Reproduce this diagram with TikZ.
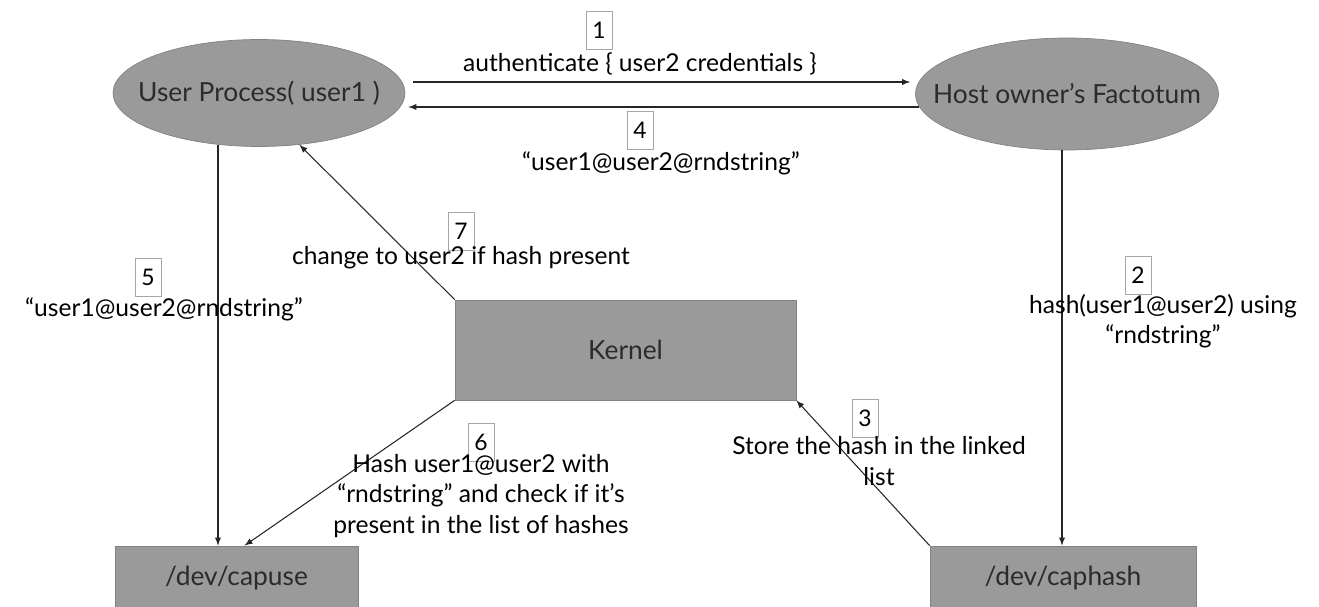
\documentclass[tikz,border=0pt]{standalone}
\usepackage{fontspec}
\setmainfont{Lato}
\usetikzlibrary{arrows}
\usetikzlibrary{calc}
\usetikzlibrary{shapes.geometric}

\definecolor{boxgray}{HTML}{9A9A9A}
\definecolor{rimgray}{HTML}{828282}
\definecolor{inkgray}{HTML}{2B2B2B}

\tikzset{
  proc/.style={ellipse, draw=rimgray, fill=boxgray, inner sep=0pt},
  proctext/.style={text=inkgray, font=\fontsize{15}{17}\selectfont},
  dev/.style={rectangle, draw=rimgray, fill=boxgray, text=inkgray, inner sep=0pt,
    font=\fontsize{15}{17}\selectfont},
  stepno/.style={draw=black!35, fill=white, inner sep=0pt, minimum width=0.52cm,
    minimum height=0.76cm, font=\fontsize{13}{15}\selectfont},
  msg/.style={align=center, inner sep=0pt, font=\fontsize{14}{17.2}\selectfont},
  flow/.style={-latex, draw=black!85, line width=0.6pt}
}

\begin{document}
\begin{tikzpicture}[x=0.02cm, y=-0.02cm]

      \clip (0,0) rectangle (1319,607);

      % the boxes
      \node[proc, minimum width=5.84cm, minimum height=2.14cm,
        label={[proctext]center:User Process( user1 )}] (up) at (259,93) {};
      \node[proc, minimum width=6.06cm, minimum height=2.24cm,
        label={[proctext]center:Host owner’s Factotum}] (host) at (1067,94) {};
      \node[dev, minimum width=6.82cm, minimum height=2cm] (kernel) at (625.5,350) {Kernel};
      \node[dev, minimum width=4.86cm, minimum height=1.28cm] (capuse) at (236.5,578) {/dev/capuse};
      \node[dev, minimum width=5.32cm, minimum height=1.28cm] (caphash) at (1063,578) {/dev/caphash};

      % the flows
      \draw[flow] ($(up.east)+(8,-11)$) -- ($(host.west)+(-5,-12)$);
      \draw[flow] ($(host.west)+(4,13)$) -- ($(up.east)+(3,14)$);
      \draw[flow] (up.south) ++(-41,-2) coordinate (c5) -- (c5 |- capuse.north);
      \draw[flow] (host.south) ++(-5,0) coordinate (c2) -- (c2 |- caphash.north);
      \draw[flow] (caphash.north west) -- (kernel.south east);
      \draw[flow] (kernel.south west) -- ($(capuse.north)+(8,0)$);
      \draw[flow] (kernel.north west) -- (up.-52);

      % step numbers
      \node[stepno] (n1) at (599,30) {1};
      \node[stepno] (n2) at (1138,275) {2};
      \node[stepno] (n3) at (865,418) {3};
      \node[stepno] (n4) at (640,130) {4};
      \node[stepno] (n5) at (148,277) {5};
      \node[stepno] (n6) at (481,442) {6};
      \node[stepno] (n7) at (461,231) {7};

      % messages
      \node[msg] (m1) at (640,64) {authenticate \{ user2 credentials \}};
      \node[msg] (m2) at (1163,321) {hash(user1@user2) using\\“rndstring”};
      \node[msg] (m3) at (879,461) {Store the hash in the linked\\list};
      \node[msg] (m4) at (661,163) {“user1@user2@rndstring”};
      \node[msg] (m5) at (164,309) {“user1@user2@rndstring”};
      \node[msg] (m6) at (481,496) {Hash user1@user2 with\\“rndstring” and check if it’s\\present in the list of hashes};
      \node[msg] (m7) at (461,258) {change to user2 if hash present};

    \end{tikzpicture}
\end{document}
